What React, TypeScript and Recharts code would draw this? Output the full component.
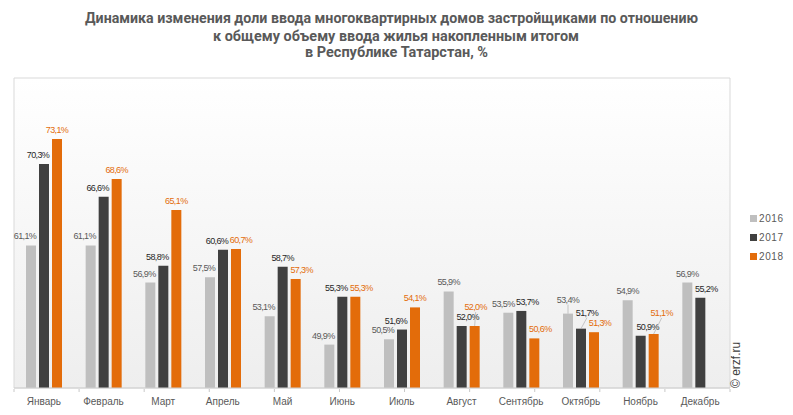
import React from 'react';
import { BarChart, Bar, XAxis, YAxis, CartesianGrid, ReferenceArea, LabelList, Legend } from 'recharts';

const months = ['Январь', 'Февраль', 'Март', 'Апрель', 'Май', 'Июнь', 'Июль', 'Август', 'Сентябрь', 'Октябрь', 'Ноябрь', 'Декабрь'];
const v2016 = [61.1, 61.1, 56.9, 57.5, 53.1, 49.9, 50.5, 55.9, 53.5, 53.4, 54.9, 56.9];
const v2017 = [70.3, 66.6, 58.8, 60.6, 58.7, 55.3, 51.6, 52.0, 53.7, 51.7, 50.9, 55.2];
const v2018: (number | null)[] = [73.1, 68.6, 65.1, 60.7, 57.3, 55.3, 54.1, 52.0, 50.6, 51.3, 51.1, null];
const seriesNames = ['2016', '2017', '2018'];
const titleLines = [
  'Динамика изменения доли ввода многоквартирных домов застройщиками по отношению',
  'к общему объему ввода жилья накопленным итогом',
  'в Республике Татарстан, %',
];

const data = months.map((m, i) => ({ month: m, y2016: v2016[i], y2017: v2017[i], y2018: v2018[i] }));

const COLORS = ['#bfbfbf', '#404040', '#e36c0a'];
const LABEL_COLORS = ['#595959', '#262626', '#e36c0a'];

// label nudges (layout only)
const NUDGE_X = [
  [-6, -6, -6, -6, -6, -6, -6, 0, -5, 0, 0, 0],
  [-6, -6, -6, -6, 0, -6, -6, 6, 6, 6, 7, 6],
  [0, 0, 0, 5, 6, 6, 0, 1, 6, 6, 8, 0],
];
const RAISE = [
  [0, 0, 0, 0, 0, 0, 0, 0, 0, 5, 0, 0],
  [0, 0, 0, 0, 0, 0, 0, 0, 0, 7, 0, 0],
  [0, 0, 0, 0, 0, 0, 0, 10, 0, 0, 12, 0],
];

const fmt = (v: number) => v.toFixed(1).replace('.', ',') + '%';

const makeLabel = (s: number) => (props: any) => {
  const { x, y, width, value, index } = props;
  if (value == null) return null;
  const cx = Number(x) + Number(width) / 2;
  const lx = cx + NUDGE_X[s][index];
  const raise = RAISE[s][index];
  const ly = Number(y) - 9 - raise;
  return (
    <g>
      {raise > 0 && (
        <line x1={lx} y1={ly + 5} x2={cx} y2={Number(y)} stroke="#a6a6a6" strokeWidth={0.6} />
      )}
      <text
        x={lx}
        y={ly}
        textAnchor="middle"
        dominantBaseline="central"
        fontSize={9}
        letterSpacing={-0.6}
        fontFamily="'Liberation Sans', Arial, sans-serif"
        fill={LABEL_COLORS[s]}
      >
        {fmt(Number(value))}
      </text>
    </g>
  );
};

const CatTick = (props: any) => {
  const { x, y, payload } = props;
  return (
    <text x={x} y={y + 5} textAnchor="middle" dominantBaseline="central" fontSize={10}
      fontFamily="'Liberation Sans', Arial, sans-serif" fill="#595959">
      {payload.value}
    </text>
  );
};

const BoundaryTick = (props: any) => {
  const { x, y } = props;
  return <line x1={x} x2={x} y1={y} y2={y + 3} stroke="#c8c8c8" strokeWidth={1} />;
};

const LegendContent = () => (
  <div style={{ fontFamily: "'Liberation Sans', Arial, sans-serif", fontSize: 10, color: '#595959' }}>
    {seriesNames.map((n, i) => (
      <div key={n} style={{ display: 'flex', alignItems: 'center', height: 19 }}>
        <span style={{ display: 'inline-block', width: 7, height: 7, background: COLORS[i], marginRight: 2 }} />
        <span style={{ letterSpacing: 0.6 }}>{n}</span>
      </div>
    ))}
  </div>
);

const boundaries = Array.from({ length: 13 }, (_, i) => i);

export default function App() {
  return (
    <div style={{ position: 'absolute', left: 0, top: 0, width: 793, height: 415, background: '#fff' }}>
      <svg width={793} height={70} style={{ position: 'absolute', left: 0, top: 0 }}>
        {[
          { x: 85, y: 23, w: 613 },
          { x: 213, y: 40.5, w: 366 },
          { x: 305, y: 57, w: 183 },
        ].map((p, i) => (
          <text key={i} x={p.x} y={p.y} fontSize={14} fontWeight="bold"
            fontFamily="Roboto, 'Liberation Sans', sans-serif" fill="#595959"
            textLength={p.w} lengthAdjust="spacingAndGlyphs">
            {titleLines[i]}
          </text>
        ))}
      </svg>
      <BarChart
        width={793}
        height={415}
        data={data}
        margin={{ top: 78, right: 63, bottom: 25, left: 14 }}
        barSize={10}
        barGap={3}
        style={{ position: 'absolute', left: 0, top: 0 }}
      >
        <defs>
          <linearGradient id="bgGrad" x1="0" y1="0" x2="0" y2="1">
            <stop offset="0%" stopColor="#ffffff" />
            <stop offset="100%" stopColor="#eeeeee" />
          </linearGradient>
        </defs>
        <CartesianGrid horizontal={false} vertical={false} fill="url(#bgGrad)" />
        <XAxis dataKey="month" xAxisId={0} height={1} axisLine={{ stroke: '#d0d0d0' }} tickLine={false}
          tick={<CatTick />} interval={0} />
        <XAxis xAxisId="b" type="number" domain={[0, 12]} allowDataOverflow ticks={boundaries} height={1}
          axisLine={false} tickLine={false} tickSize={0} tickMargin={0} tick={<BoundaryTick />} interval={0} />
        <YAxis domain={[45, 80]} allowDataOverflow hide />
        <ReferenceArea y1={45} y2={80} fill="none" stroke="#d9d9d9" strokeWidth={1} ifOverflow="visible" />
        <Legend layout="vertical" align="center" verticalAlign="middle" content={<LegendContent />}
          wrapperStyle={{ position: 'absolute', left: 750, top: 209, width: 40 }} />
        <Bar dataKey="y2016" name="2016" fill={COLORS[0]} isAnimationActive={false}>
          <LabelList dataKey="y2016" content={makeLabel(0)} />
        </Bar>
        <Bar dataKey="y2017" name="2017" fill={COLORS[1]} isAnimationActive={false}>
          <LabelList dataKey="y2017" content={makeLabel(1)} />
        </Bar>
        <Bar dataKey="y2018" name="2018" fill={COLORS[2]} isAnimationActive={false}>
          <LabelList dataKey="y2018" content={makeLabel(2)} />
        </Bar>
      </BarChart>
      <svg width={793} height={415} style={{ position: 'absolute', left: 0, top: 0, pointerEvents: 'none' }}>
        <text x={0} y={0} transform="translate(740 388) rotate(-90)" fontSize={12}
          fontFamily="'Liberation Sans', Arial, sans-serif" fill="#404040">
          © erzf.ru
        </text>
      </svg>
    </div>
  );
}
